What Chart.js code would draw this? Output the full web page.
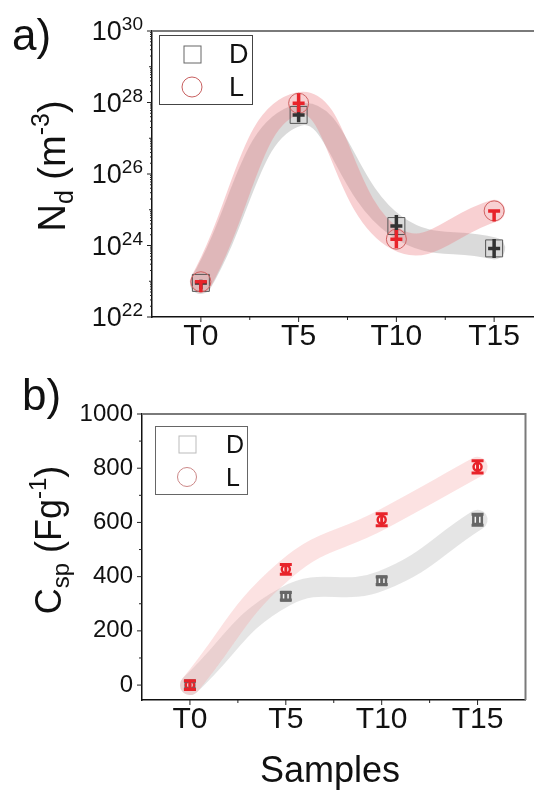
<!doctype html>
<html>
<head>
<meta charset="UTF-8">
<title>Nd and Csp vs samples</title>
<script src="https://cdn.jsdelivr.net/npm/chart.js@4/dist/chart.umd.min.js"></script>
<style>
  html, body { margin: 0; padding: 0; background: #fff; overflow: hidden; }
  #wrap { position: relative; width: 534px; height: 793px; overflow: hidden; }
  #top { position: absolute; left: 0; top: 0; }
  #bottom { position: absolute; left: 0; top: 360px; }
</style>
</head>
<body>
<div id="wrap">
  <canvas id="top" width="560" height="360"></canvas>
  <canvas id="bottom" width="534" height="433"></canvas>
</div>
<script>
// samples and series
var samples = ['T0', 'T5', 'T10', 'T15'];
var seriesNames = ['D', 'L'];

// a) carrier density Nd (m^-3)
var ndD = [9e22, 4.5e27, 3.5e24, 8.3e23];
var ndL = [9.7e22, 9.5e27, 1.5e24, 9.3e24];
var ndDUp = [2e22, 3.5e27, 3.6e24, 7e23];
var ndDDown = [3e22, 1.7e27, 1.5e24, 3.8e23];
var ndLUp = [0, 8.6e27, 1.2e24, 0];
var ndLDown = [4.8e22, 4.2e27, 0.66e24, 4.6e24];
var ndTicks = [1e22, 1e24, 1e26, 1e28, 1e30];

// b) specific capacitance Csp (F/g)
var cspD = [0, 328, 385, 610];
var cspL = [0, 427, 610, 805];
var cspDErr = [14, 14, 14, 20];
var cspLErr = [16, 18, 22, 23];
var cspTicks = [0, 200, 400, 600, 800, 1000];

var FONT = '"Liberation Sans", Arial, sans-serif';
function f(size) { return size + 'px ' + FONT; }

function richWidth(ctx, parts) {
  var w = 0;
  parts.forEach(function (p) { ctx.font = f(p.size); w += ctx.measureText(p.t).width; });
  return w;
}
function drawRich(ctx, parts, x, y) {
  ctx.textAlign = 'left';
  ctx.textBaseline = 'alphabetic';
  parts.forEach(function (p) {
    ctx.font = f(p.size);
    ctx.fillText(p.t, x, y + (p.dy || 0));
    x += ctx.measureText(p.t).width;
  });
}

var deco = {
  id: 'deco',
  afterDatasetsDraw: function (chart, args, o) {
    var ctx = chart.ctx, ys = chart.scales.y;
    ctx.save();
    chart.data.datasets.forEach(function (ds, i) {
      if (!ds.errUp) return;
      var meta = chart.getDatasetMeta(i);
      ctx.strokeStyle = ds.errColor;
      ctx.lineWidth = o.errWidth;
      ctx.lineCap = 'butt';
      meta.data.forEach(function (pt, j) {
        var v = ds.data[j];
        var yHi = ys.getPixelForValue(v + ds.errUp[j]);
        var yLo = ys.getPixelForValue(v - ds.errDown[j]);
        var yc = ys.getPixelForValue(v);
        var h = o.capHalf;
        ctx.beginPath();
        ctx.moveTo(pt.x, yHi); ctx.lineTo(pt.x, yLo);
        if (o.plus) {
          ctx.moveTo(pt.x - h, yc); ctx.lineTo(pt.x + h, yc);
        } else {
          ctx.moveTo(pt.x - h, yHi); ctx.lineTo(pt.x + h, yHi);
          ctx.moveTo(pt.x - h, yLo); ctx.lineTo(pt.x + h, yLo);
        }
        ctx.stroke();
      });
    });
    ctx.restore();
  },
  afterDraw: function (chart, args, o) {
    var ctx = chart.ctx, a = chart.chartArea;
    var xs = chart.scales.x, ys = chart.scales.y;
    ctx.save();
    // top and right frame lines
    ctx.strokeStyle = '#7a7a7a';
    ctx.lineWidth = 2;
    ctx.beginPath();
    ctx.moveTo(a.left, a.top); ctx.lineTo(a.right, a.top);
    if (o.rightFrame) { ctx.lineTo(a.right, a.bottom); }
    ctx.stroke();

    // tick marks, outside
    ctx.strokeStyle = '#222';
    ctx.lineWidth = 1;
    ctx.beginPath();
    for (var i = 0; i < samples.length; i++) {
      var x = xs.getPixelForValue(i);
      ctx.moveTo(x, a.bottom); ctx.lineTo(x, a.bottom + 5);
      if (i < samples.length - 1) {
        var xm = (x + xs.getPixelForValue(i + 1)) / 2;
        ctx.moveTo(xm, a.bottom); ctx.lineTo(xm, a.bottom + 3);
      }
    }
    o.yMinor.forEach(function (v) {
      var y = ys.getPixelForValue(v.v);
      ctx.moveTo(a.left, y); ctx.lineTo(a.left - v.len, y);
    });
    ctx.stroke();

    // log tick labels with superscript exponents
    if (o.powLabels) {
      ctx.fillStyle = '#111';
      o.powLabels.forEach(function (v) {
        var y = ys.getPixelForValue(v);
        var ex = String(Math.round(Math.log10(v)));
        ctx.font = f(19);
        ctx.textAlign = 'right';
        ctx.textBaseline = 'alphabetic';
        ctx.fillText(ex, a.left - 9, y - 1);
        var ew = ctx.measureText(ex).width;
        ctx.font = f(27);
        ctx.textBaseline = 'middle';
        ctx.fillText('10', a.left - 9 - ew, y + 2);
      });
    }

    // axis titles and panel letter
    ctx.fillStyle = '#111';
    var w = richWidth(ctx, o.yTitle);
    ctx.save();
    ctx.translate(o.yTitlePos[0], o.yTitlePos[1]);
    ctx.rotate(-Math.PI / 2);
    drawRich(ctx, o.yTitle, -w / 2, 13);
    ctx.restore();
    if (o.xTitle) {
      ctx.font = f(36);
      ctx.textAlign = 'center';
      ctx.textBaseline = 'alphabetic';
      ctx.fillText(o.xTitle, o.xTitlePos[0], o.xTitlePos[1]);
    }
    ctx.font = f(44);
    ctx.textAlign = 'left';
    ctx.textBaseline = 'alphabetic';
    ctx.fillText(o.panel, o.panelPos[0], o.panelPos[1]);

    // legend box
    var L = o.legend;
    ctx.fillStyle = '#fff';
    ctx.fillRect(L.x, L.y, L.w, L.h);
    ctx.strokeStyle = L.frame;
    ctx.lineWidth = 1;
    ctx.strokeRect(L.x + 0.5, L.y + 0.5, L.w, L.h);
    ctx.strokeStyle = L.sqColor;
    ctx.strokeRect(L.mx - L.sq / 2 + 0.5, L.rows[0] - L.sq / 2 + 0.5, L.sq, L.sq);
    ctx.strokeStyle = L.ciColor;
    ctx.beginPath();
    ctx.arc(L.mx, L.rows[1], L.r, 0, Math.PI * 2);
    ctx.stroke();
    ctx.fillStyle = '#111';
    ctx.font = f(L.size);
    ctx.textBaseline = 'middle';
    seriesNames.forEach(function (n, k) { ctx.fillText(n, L.tx, L.rows[k] + 2); });
    ctx.restore();
  }
};

function band(data, color, width, order) {
  return {
    data: data, borderColor: color, borderWidth: width, backgroundColor: color,
    pointRadius: 0, tension: 0.45, fill: false, order: order,
    borderCapStyle: 'round', borderJoinStyle: 'round'
  };
}

function baseOptions(yScale, pad, yWidth, xHeight, fontX) {
  return {
    responsive: false,
    animation: false,
    events: [],
    layout: { padding: pad },
    plugins: { legend: { display: false }, tooltip: { enabled: false } },
    scales: {
      x: {
        type: 'category', offset: true,
        grid: { display: false, drawTicks: false },
        border: { color: '#111', width: 1.5 },
        ticks: { color: '#111', font: { family: FONT, size: fontX }, padding: 2 },
        afterFit: function (s) { s.height = xHeight; }
      },
      y: Object.assign(yScale, {
        afterFit: function (s) { s.width = yWidth; }
      })
    }
  };
}

// a) Nd, log scale
var ndMinor = [];
for (var e = 22; e < 30; e++) {
  for (var m = 2; m <= 9; m++) ndMinor.push({ v: m * Math.pow(10, e), len: 2 });
  ndMinor.push({ v: Math.pow(10, e), len: e % 2 ? 3 : 5 });
}
ndMinor.push({ v: 1e30, len: 5 });

var optA = baseOptions({
  type: 'logarithmic', min: 1e22, max: 1e30,
  grid: { display: false, drawTicks: false },
  border: { color: '#111', width: 1.5 },
  ticks: { display: false }
}, { top: 31, right: 17, left: 0, bottom: 0 }, 152, 43, 30);
optA.plugins.deco = {
  errWidth: 3.5, capHalf: 6, plus: true, rightFrame: false,
  yMinor: ndMinor, powLabels: ndTicks,
  yTitle: [{ t: 'N', size: 38 }, { t: 'd', size: 25, dy: 8 }, { t: ' (m', size: 38 }, { t: '-3', size: 25, dy: -16 }, { t: ')', size: 38 }],
  yTitlePos: [52, 166],
  panel: 'a)', panelPos: [12, 50],
  legend: { x: 159, y: 35, w: 93, h: 69, frame: '#444', sqColor: '#666', ciColor: '#c86060', sq: 17, r: 10, mx: 192, tx: 229, rows: [54, 87], size: 27 }
};

new Chart(document.getElementById('top'), {
  type: 'line',
  data: {
    labels: samples,
    datasets: [
      band(ndD, 'rgba(150,150,150,0.35)', 22, 4),
      band(ndL, 'rgba(235,120,125,0.35)', 22, 3),
      {
        label: seriesNames[0], data: ndD, showLine: false, order: 2,
        pointStyle: 'rect', pointRadius: 12, borderColor: '#555', borderWidth: 1,
        backgroundColor: 'rgba(0,0,0,0)', errUp: ndDUp, errDown: ndDDown, errColor: '#333'
      },
      {
        label: seriesNames[1], data: ndL, showLine: false, order: 1,
        pointStyle: 'circle', pointRadius: 10, borderColor: '#d06060', borderWidth: 1,
        backgroundColor: 'rgba(0,0,0,0)', errUp: ndLUp, errDown: ndLDown, errColor: '#e8232a'
      }
    ]
  },
  options: optA,
  plugins: [deco]
});

// b) Csp, linear scale
var cspMinor = [];
for (var v = 0; v <= 1000; v += 100) cspMinor.push({ v: v, len: v % 200 ? 3 : 5 });

var optB = baseOptions({
  type: 'linear', min: -55, max: 1000,
  grid: { display: false, drawTicks: false },
  border: { color: '#111', width: 1.5 },
  ticks: {
    color: '#111', font: { family: FONT, size: 24 }, padding: 9,
    callback: function (val) { return String(val); }
  },
  afterBuildTicks: function (s) { s.ticks = cspTicks.map(function (t) { return { value: t }; }); }
}, { top: 54, right: 2, left: 0, bottom: 0 }, 142, 93, 30);
optB.plugins.deco = {
  errWidth: 3, capHalf: 6, plus: false, rightFrame: true,
  yMinor: cspMinor,
  yTitle: [{ t: 'C', size: 36 }, { t: 'sp', size: 24, dy: 8 }, { t: ' (Fg', size: 36 }, { t: '-1', size: 24, dy: -15 }, { t: ')', size: 36 }],
  yTitlePos: [48, 180],
  xTitle: 'Samples', xTitlePos: [330, 422],
  panel: 'b)', panelPos: [22, 50],
  legend: { x: 155, y: 66, w: 92, h: 68, frame: '#666', sqColor: '#bbb', ciColor: '#c88', sq: 17, r: 9.5, mx: 187, tx: 226, rows: [84, 117], size: 25 }
};

new Chart(document.getElementById('bottom'), {
  type: 'line',
  data: {
    labels: samples,
    datasets: [
      band(cspD, 'rgba(170,170,170,0.3)', 20, 4),
      band(cspL, 'rgba(245,160,160,0.3)', 20, 3),
      {
        label: seriesNames[0], data: cspD, showLine: false, order: 2,
        pointStyle: 'rect', pointRadius: 6, borderColor: '#666', borderWidth: 2.5,
        backgroundColor: 'rgba(255,255,255,0.6)', errUp: cspDErr, errDown: cspDErr, errColor: '#666'
      },
      {
        label: seriesNames[1], data: cspL, showLine: false, order: 1,
        pointStyle: 'circle', pointRadius: 4, borderColor: '#e8232a', borderWidth: 2.5,
        backgroundColor: 'rgba(255,255,255,0.8)', errUp: cspLErr, errDown: cspLErr, errColor: '#e8232a'
      }
    ]
  },
  options: optB,
  plugins: [deco]
});
</script>
</body>
</html>
